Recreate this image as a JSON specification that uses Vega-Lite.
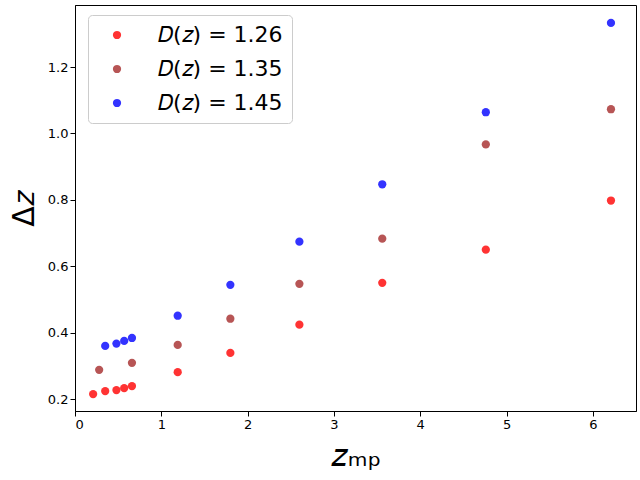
{
  "$schema": "https://vega.github.io/schema/vega-lite/v6.json",
  "width": 561,
  "height": 406,
  "autosize": "none",
  "padding": {"left": 75, "top": 5, "right": 4, "bottom": 69},
  "config": {
    "font": "DejaVu Sans",
    "view": {"stroke": "black", "strokeWidth": 1},
    "axis": {
      "grid": false,
      "domainColor": "black",
      "tickColor": "black",
      "labelColor": "black",
      "labelFontSize": 13,
      "tickSize": 5,
      "titleColor": "black",
      "titleFontWeight": "normal"
    }
  },
  "data": {
    "values": [
      {"series": "𝐷(𝑧) = 1.26", "zmp": 0.21, "dz": 0.215},
      {"series": "𝐷(𝑧) = 1.26", "zmp": 0.35, "dz": 0.224},
      {"series": "𝐷(𝑧) = 1.26", "zmp": 0.48, "dz": 0.227},
      {"series": "𝐷(𝑧) = 1.26", "zmp": 0.57, "dz": 0.233},
      {"series": "𝐷(𝑧) = 1.26", "zmp": 0.66, "dz": 0.239},
      {"series": "𝐷(𝑧) = 1.26", "zmp": 1.19, "dz": 0.281},
      {"series": "𝐷(𝑧) = 1.26", "zmp": 1.80, "dz": 0.339},
      {"series": "𝐷(𝑧) = 1.26", "zmp": 2.60, "dz": 0.424},
      {"series": "𝐷(𝑧) = 1.26", "zmp": 3.56, "dz": 0.550},
      {"series": "𝐷(𝑧) = 1.26", "zmp": 4.76, "dz": 0.650},
      {"series": "𝐷(𝑧) = 1.26", "zmp": 6.21, "dz": 0.798},
      {"series": "𝐷(𝑧) = 1.35", "zmp": 0.28, "dz": 0.288},
      {"series": "𝐷(𝑧) = 1.35", "zmp": 0.66, "dz": 0.309},
      {"series": "𝐷(𝑧) = 1.35", "zmp": 1.19, "dz": 0.363},
      {"series": "𝐷(𝑧) = 1.35", "zmp": 1.80, "dz": 0.442},
      {"series": "𝐷(𝑧) = 1.35", "zmp": 2.60, "dz": 0.547},
      {"series": "𝐷(𝑧) = 1.35", "zmp": 3.56, "dz": 0.683},
      {"series": "𝐷(𝑧) = 1.35", "zmp": 4.76, "dz": 0.967},
      {"series": "𝐷(𝑧) = 1.35", "zmp": 6.21, "dz": 1.073},
      {"series": "𝐷(𝑧) = 1.45", "zmp": 0.35, "dz": 0.360},
      {"series": "𝐷(𝑧) = 1.45", "zmp": 0.48, "dz": 0.367},
      {"series": "𝐷(𝑧) = 1.45", "zmp": 0.57, "dz": 0.375},
      {"series": "𝐷(𝑧) = 1.45", "zmp": 0.66, "dz": 0.384},
      {"series": "𝐷(𝑧) = 1.45", "zmp": 1.19, "dz": 0.451},
      {"series": "𝐷(𝑧) = 1.45", "zmp": 1.80, "dz": 0.544},
      {"series": "𝐷(𝑧) = 1.45", "zmp": 2.60, "dz": 0.674},
      {"series": "𝐷(𝑧) = 1.45", "zmp": 3.56, "dz": 0.847},
      {"series": "𝐷(𝑧) = 1.45", "zmp": 4.76, "dz": 1.064},
      {"series": "𝐷(𝑧) = 1.45", "zmp": 6.21, "dz": 1.333}
    ]
  },
  "mark": {"type": "circle", "size": 68, "opacity": 0.8},
  "encoding": {
    "x": {
      "field": "zmp",
      "type": "quantitative",
      "scale": {"domain": [0, 6.5], "nice": false, "zero": false},
      "axis": {"values": [0, 1, 2, 3, 4, 5, 6], "format": "d", "title": "𝑧ₘₚ", "titleFontSize": 32, "titlePadding": 9}
    },
    "y": {
      "field": "dz",
      "type": "quantitative",
      "scale": {"domain": [0.164, 1.387], "nice": false, "zero": false},
      "axis": {"values": [0.2, 0.4, 0.6, 0.8, 1.0, 1.2], "format": ".1f", "title": "Δ𝑧", "titleFontSize": 30, "titlePadding": 8}
    },
    "color": {
      "field": "series",
      "type": "nominal",
      "scale": {
        "domain": ["𝐷(𝑧) = 1.26", "𝐷(𝑧) = 1.35", "𝐷(𝑧) = 1.45"],
        "range": ["red", "brown", "blue"]
      },
      "legend": {
        "title": null,
        "orient": "none",
        "legendX": 13,
        "legendY": 10,
        "labelFontSize": 22,
        "labelColor": "black",
        "symbolSize": 68,
        "symbolOpacity": 0.8,
        "symbolOffset": 9,
        "labelOffset": 30,
        "rowPadding": 12,
        "padding": 9,
        "offset": 0,
        "strokeColor": "#cccccc",
        "cornerRadius": 4,
        "fillColor": "white"
      }
    }
  }
}
